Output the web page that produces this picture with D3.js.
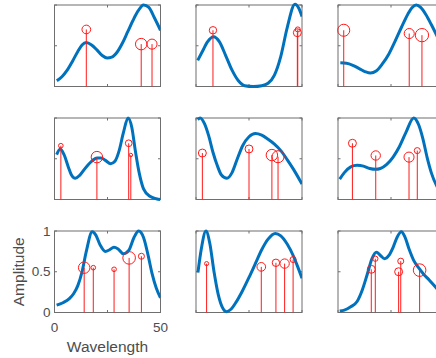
<!DOCTYPE html>
<html>
<head>
<meta charset="utf-8">
<script src="https://cdn.jsdelivr.net/npm/d3@7"></script>
<style>
  body { margin: 0; background: #fff; }
  svg { display: block; }
</style>
</head>
<body>
<svg id="chart"></svg>
<script>
// curve samples (wavelength, amplitude) and stem samples (position, amplitude, weight) per panel
const wl1 = [1.1, 3.5, 6, 8.5, 11, 13, 15, 17.5, 20, 22.5, 24.8, 27, 29.5, 32, 34.5, 37, 39.5, 42, 44.5, 47, 50];
const amp1 = [0.07, 0.12, 0.2, 0.31, 0.43, 0.51, 0.54, 0.51, 0.45, 0.38, 0.35, 0.36, 0.42, 0.53, 0.67, 0.81, 0.93, 1.0, 0.97, 0.85, 0.69];
const stemX1 = [15, 40.9, 46];
const stemY1 = [0.70, 0.52, 0.52];
const stemW1 = [0.62, 0.82, 0.72];

const wl2 = [0.8, 3, 5.5, 8.3, 11, 14, 17, 20, 23, 27, 31, 34, 37, 40, 43, 46.7, 48.5, 50];
const amp2 = [0.32, 0.43, 0.55, 0.61, 0.55, 0.38, 0.2, 0.07, 0.01, 0.0, 0.01, 0.04, 0.14, 0.37, 0.72, 1.01, 0.96, 0.86];
const stemX2 = [8.0, 47.8, 48.0];
const stemY2 = [0.69, 0.66, 0.70];
const stemW2 = [0.53, 0.57, 0.36];

const wl3 = [1.1, 4, 7, 10, 13, 15.3, 18, 21, 24, 27, 30, 33, 35, 36.9, 39, 41.5, 44, 46.5, 50];
const amp3 = [0.29, 0.285, 0.26, 0.22, 0.18, 0.165, 0.19, 0.28, 0.4, 0.56, 0.73, 0.89, 0.97, 1.0, 0.97, 0.88, 0.76, 0.63, 0.43];
const stemX3 = [2.7, 33.6, 39.6];
const stemY3 = [0.69, 0.65, 0.63];
const stemW3 = [0.86, 0.72, 0.95];

const wl4 = [1, 2.7, 4.5, 6.5, 8, 9.8, 12, 15, 18, 20, 22, 24, 26.5, 28.5, 30.5, 32.5, 34.7, 36.5, 38, 40, 42, 45, 48, 50];
const amp4 = [0.55, 0.62, 0.55, 0.4, 0.3, 0.26, 0.3, 0.4, 0.48, 0.51, 0.51, 0.48, 0.44, 0.47, 0.6, 0.82, 1.0, 0.88, 0.62, 0.32, 0.13, 0.04, 0.01, 0.0];
const stemX4 = [3.0, 20, 35.0, 36.0];
const stemY4 = [0.66, 0.52, 0.69, 0.546];
const stemW4 = [0.33, 0.82, 0.48, 0.25];

const wl5 = [0.8, 2, 4, 6, 8, 10, 12, 14.6, 17, 19.5, 22, 25, 28, 31, 34, 37, 40, 43, 46, 50];
const amp5 = [0.98, 1.0, 0.93, 0.78, 0.58, 0.42, 0.3, 0.26, 0.33, 0.5, 0.66, 0.77, 0.81, 0.79, 0.74, 0.68, 0.6, 0.49, 0.37, 0.19];
const stemX5 = [3.0, 25, 35.8, 38.7];
const stemY5 = [0.57, 0.62, 0.545, 0.525];
const stemW5 = [0.57, 0.57, 0.82, 0.86];

const wl6 = [0.8, 3, 6, 9, 12, 15, 17.7, 20, 23, 26, 29, 32, 35.7, 38, 40, 42, 44, 46.5, 50];
const amp6 = [0.25, 0.33, 0.4, 0.42, 0.41, 0.38, 0.37, 0.38, 0.43, 0.52, 0.65, 0.82, 1.0, 0.92, 0.75, 0.52, 0.33, 0.17, 0.05];
const stemX6 = [6.8, 17.8, 33.5, 37.4];
const stemY6 = [0.69, 0.54, 0.52, 0.6];
const stemW6 = [0.57, 0.67, 0.72, 0.43];

const wl7 = [1, 4, 7, 9, 11, 13, 15, 17.8, 19.5, 21.5, 24, 26, 28, 30, 32.5, 35, 37.5, 39.7, 42, 44, 46, 48, 50];
const amp7 = [0.09, 0.12, 0.17, 0.23, 0.33, 0.5, 0.75, 0.99, 0.95, 0.83, 0.75, 0.77, 0.8, 0.78, 0.72, 0.76, 0.92, 1.0, 0.92, 0.72, 0.48, 0.3, 0.18];
const stemX7 = [14.0, 18.3, 28.1, 35.2, 41];
const stemY7 = [0.55, 0.55, 0.53, 0.67, 0.69];
const stemW7 = [0.82, 0.33, 0.33, 0.9, 0.43];

const wl8 = [0.9, 2.5, 4.7, 6.5, 8.5, 10.5, 12.5, 14.3, 16.5, 19, 22, 25, 28, 31, 34, 37.4, 40, 43, 46, 48, 50];
const amp8 = [0.49, 0.78, 1.0, 0.85, 0.5, 0.22, 0.06, 0.01, 0.04, 0.13, 0.27, 0.43, 0.6, 0.77, 0.9, 0.97, 0.94, 0.84, 0.69, 0.56, 0.42];
const stemX8 = [5.0, 30.8, 37.7, 41.8, 45.8];
const stemY8 = [0.6, 0.56, 0.61, 0.6, 0.65];
const stemW8 = [0.29, 0.62, 0.53, 0.67, 0.43];

const wl9 = [0.8, 3, 6, 9, 11.5, 13.7, 16, 18.1, 20, 22, 24, 26, 28, 29.9, 31.5, 33.5, 35.7, 38, 40.4, 43, 46.4, 50];
const amp9 = [0.02, 0.03, 0.07, 0.135, 0.28, 0.46, 0.66, 0.74, 0.7, 0.66, 0.7, 0.8, 0.93, 0.99, 0.93, 0.78, 0.64, 0.55, 0.47, 0.4, 0.3, 0.18];
const stemX9 = [15.7, 17.6, 28.6, 29.6, 38.5];
const stemY9 = [0.53, 0.66, 0.5, 0.63, 0.52];
const stemW9 = [0.57, 0.38, 0.57, 0.43, 0.9];

const xTicks = [0, 25, 50];
const xTickLabels = ['0', '', '50'];
const yTicks = [0, 0.5, 1];
const yTickLabels = ['0', '0.5', '1'];

const panels = [
  [wl1, amp1, stemX1, stemY1, stemW1], [wl2, amp2, stemX2, stemY2, stemW2], [wl3, amp3, stemX3, stemY3, stemW3],
  [wl4, amp4, stemX4, stemY4, stemW4], [wl5, amp5, stemX5, stemY5, stemW5], [wl6, amp6, stemX6, stemY6, stemW6],
  [wl7, amp7, stemX7, stemY7, stemW7], [wl8, amp8, stemX8, stemY8, stemW8], [wl9, amp9, stemX9, stemY9, stemW9]
];

const W = 436, H = 358;
const colLeft = [54.5, 196, 338];
const rowTop = [5, 118, 231];
const pw = 106, ph = 81.5;
const font = '"Liberation Sans", Arial, Helvetica, sans-serif';
const axisColor = '#6f6f6f';
const textColor = '#4d4d4d';

const svg = d3.select('#chart')
    .attr('width', W)
    .attr('height', H);

const xScale = d3.scaleLinear().domain([0, 50]).range([0, pw]);
const yScale = d3.scaleLinear().domain([0, 1]).range([ph, 0]);
const rScale = d3.scaleLinear().domain([0, 1]).range([0, 7]);

const line = d3.line()
    .x(d => xScale(d[0]))
    .y(d => yScale(d[1]))
    .curve(d3.curveMonotoneX);

panels.forEach((p, i) => {
  const [wl, amp, sx, sy, sw] = p;
  const col = i % 3, row = Math.floor(i / 3);
  const g = svg.append('g')
      .attr('transform', `translate(${colLeft[col]},${rowTop[row]})`);

  g.append('clipPath')
      .attr('id', 'clip' + i)
    .append('rect')
      .attr('x', 0).attr('y', -4)
      .attr('width', pw).attr('height', ph + 8);

  // box
  g.append('rect')
      .attr('x', 0).attr('y', 0)
      .attr('width', pw).attr('height', ph)
      .attr('fill', 'none')
      .attr('stroke', axisColor)
      .attr('stroke-width', 1);

  // inward ticks on all four sides
  const tl = 2.5;
  xTicks.forEach(t => {
    g.append('line').attr('x1', xScale(t)).attr('x2', xScale(t)).attr('y1', ph).attr('y2', ph - tl)
        .attr('stroke', axisColor);
    g.append('line').attr('x1', xScale(t)).attr('x2', xScale(t)).attr('y1', 0).attr('y2', tl)
        .attr('stroke', axisColor);
  });
  yTicks.forEach(t => {
    g.append('line').attr('x1', 0).attr('x2', tl).attr('y1', yScale(t)).attr('y2', yScale(t))
        .attr('stroke', axisColor);
    g.append('line').attr('x1', pw).attr('x2', pw - tl).attr('y1', yScale(t)).attr('y2', yScale(t))
        .attr('stroke', axisColor);
  });

  const data = wl.map((w, k) => [w, amp[k]]);
  g.append('path')
      .datum(data)
      .attr('clip-path', `url(#clip${i})`)
      .attr('d', line)
      .attr('fill', 'none')
      .attr('stroke', '#0072BD')
      .attr('stroke-width', 3);

  const stems = sx.map((x, k) => ({x: x, y: sy[k], w: sw[k]}));
  g.selectAll('.stem')
      .data(stems)
    .join('line')
      .attr('class', 'stem')
      .attr('x1', d => xScale(d.x)).attr('x2', d => xScale(d.x))
      .attr('y1', yScale(0)).attr('y2', d => yScale(d.y))
      .attr('stroke', '#ff1a1a')
      .attr('stroke-width', 1);
  g.selectAll('.mark')
      .data(stems)
    .join('circle')
      .attr('class', 'mark')
      .attr('cx', d => xScale(d.x))
      .attr('cy', d => yScale(d.y))
      .attr('r', d => rScale(d.w))
      .attr('fill', 'none')
      .attr('stroke', '#ff1a1a')
      .attr('stroke-width', 1);

  // labels only on the bottom-left panel
  if (row === 2 && col === 0) {
    xTicks.forEach((t, k) => {
      g.append('text')
          .attr('x', xScale(t)).attr('y', ph + 19.5)
          .attr('text-anchor', 'middle')
          .attr('font-family', font).attr('font-size', 13.5)
          .attr('fill', textColor)
          .text(xTickLabels[k]);
    });
    yTicks.forEach((t, k) => {
      g.append('text')
          .attr('x', -4).attr('y', yScale(t))
          .attr('dy', '0.35em')
          .attr('text-anchor', 'end')
          .attr('font-family', font).attr('font-size', 13.5)
          .attr('fill', textColor)
          .text(yTickLabels[k]);
    });
    g.append('text')
        .attr('x', pw / 2).attr('y', ph + 39.5)
        .attr('text-anchor', 'middle')
        .attr('font-family', font).attr('font-size', 15.5)
        .attr('fill', textColor)
        .text('Wavelength');
    g.append('text')
        .attr('transform', `translate(${-31},${ph / 2}) rotate(-90)`)
        .attr('text-anchor', 'middle')
        .attr('font-family', font).attr('font-size', 15.5)
        .attr('fill', textColor)
        .text('Amplitude');
  }
});
</script>
</body>
</html>
